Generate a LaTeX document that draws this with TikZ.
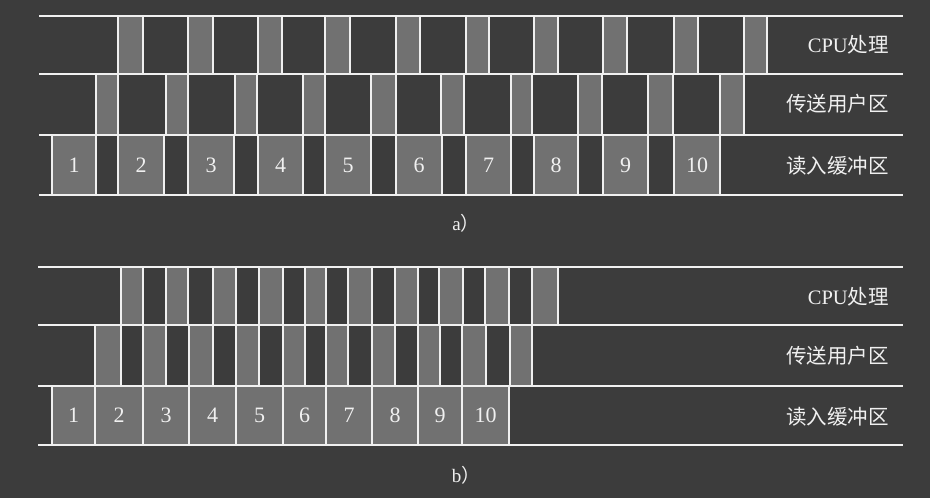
\documentclass[tikz,border=0pt]{standalone}
\usepackage{fontspec}
\setmainfont{Liberation Serif}
\newfontfamily\cjk{Noto Sans CJK SC}
\definecolor{bg}{HTML}{3C3C3C}
\definecolor{boxgray}{HTML}{717171}
\definecolor{ln}{HTML}{F0F0F0}
\begin{document}
\begin{tikzpicture}[x=1pt,y=-1pt,
  cell/.style={draw=ln, line width=1.8pt, fill=boxgray, inner sep=0pt, outer sep=0pt,
    text=ln, font=\fontsize{22}{24}\selectfont},
  gap/.style={draw=ln, line width=1.8pt, inner sep=0pt, outer sep=0pt},
  rule/.style={draw=ln, line width=2.2pt},
  rowlabel/.style={anchor=east, text=ln, inner sep=0pt, font=\fontsize{20.5}{22}\selectfont},
  caption/.style={text=ln, inner sep=0pt, font=\fontsize{19}{20}\selectfont}]
\fill[bg] (0,0) rectangle (930,498);
\useasboundingbox (0,0) rectangle (930,498);

% ---------- part a ----------
% read buffer row (135-195)
\foreach \a/\b [count=\i] in {52/96,118/164,188/234,258/303,325/371,396/442,466/511,534/578,603/648,674/720}
  \node[cell, minimum width={(\b-\a)*1pt}, minimum height=60pt] (aR\i) at ({(\a+\b)/2},165) {\i};
% gaps between read boxes
\foreach \i [evaluate=\i as \j using int(\i+1)] in {1,...,9}
  \draw[gap] (aR\i.north east) -- (aR\i.south east) (aR\j.north west) -- (aR\j.south west);
% transfer row (74-135)
\foreach \a/\b [count=\i] in {96/118,166/188,235/257,303/325,371/396,441/464,511/532,578/602,648/673,720/744}
  \node[cell, minimum width={(\b-\a)*1pt}, minimum height=61pt] (aT\i) at ({(\a+\b)/2},104.5) {};
% CPU row (16-74)
\foreach \a/\b [count=\i] in {118/143,188/213,258/282,325/350,396/420,466/489,534/558,603/627,674/698,744/767}
  \node[cell, minimum width={(\b-\a)*1pt}, minimum height=58pt] (aC\i) at ({(\a+\b)/2},45) {};
% rules
\coordinate (aL1) at (39,16);  \coordinate (aE1) at (903,16);
\coordinate (aL2) at (39,74);  \coordinate (aE2) at (903,74);
\coordinate (aL3) at (39,135); \coordinate (aE3) at (903,135);
\coordinate (aL4) at (39,195); \coordinate (aE4) at (903,195);
\foreach \k in {1,...,4} \draw[rule] (aL\k) -- (aE\k);
\node[rowlabel] (aLc) at (889,45) {CPU{\cjk 处理}};
\node[rowlabel] (aLt) at (889,104) {\cjk 传送用户区};
\node[rowlabel] (aLr) at (889,166) {\cjk 读入缓冲区};
\node[caption] (capa) at (466,223) {a{\cjk ）}};

% ---------- part b ----------
\foreach \a/\b [count=\i] in {52/95,95/143,143/189,189/236,236/283,283/326,326/372,372/418,418/462,462/509}
  \node[cell, minimum width={(\b-\a)*1pt}, minimum height=59pt] (bR\i) at ({(\a+\b)/2},415.5) {\i};
\foreach \a/\b [count=\i] in {95/121,143/166,189/213,236/259,283/305,326/348,372/395,418/440,462/486,510/532}
  \node[cell, minimum width={(\b-\a)*1pt}, minimum height=61pt] (bT\i) at ({(\a+\b)/2},355.5) {};
\foreach \a/\b [count=\i] in {121/143,166/188,213/236,259/283,305/326,348/372,395/418,439/463,485/509,532/558}
  \node[cell, minimum width={(\b-\a)*1pt}, minimum height=58pt] (bC\i) at ({(\a+\b)/2},296) {};
\coordinate (bL1) at (38,267);  \coordinate (bE1) at (903,267);
\coordinate (bL2) at (38,325);  \coordinate (bE2) at (903,325);
\coordinate (bL3) at (38,386);  \coordinate (bE3) at (903,386);
\coordinate (bL4) at (38,445);  \coordinate (bE4) at (903,445);
\foreach \k in {1,...,4} \draw[rule] (bL\k) -- (bE\k);
\node[rowlabel] (bLc) at (889,297) {CPU{\cjk 处理}};
\node[rowlabel] (bLt) at (889,356) {\cjk 传送用户区};
\node[rowlabel] (bLr) at (889,417) {\cjk 读入缓冲区};
\node[caption] (capb) at (466,475) {b{\cjk ）}};
\end{tikzpicture}
\end{document}
